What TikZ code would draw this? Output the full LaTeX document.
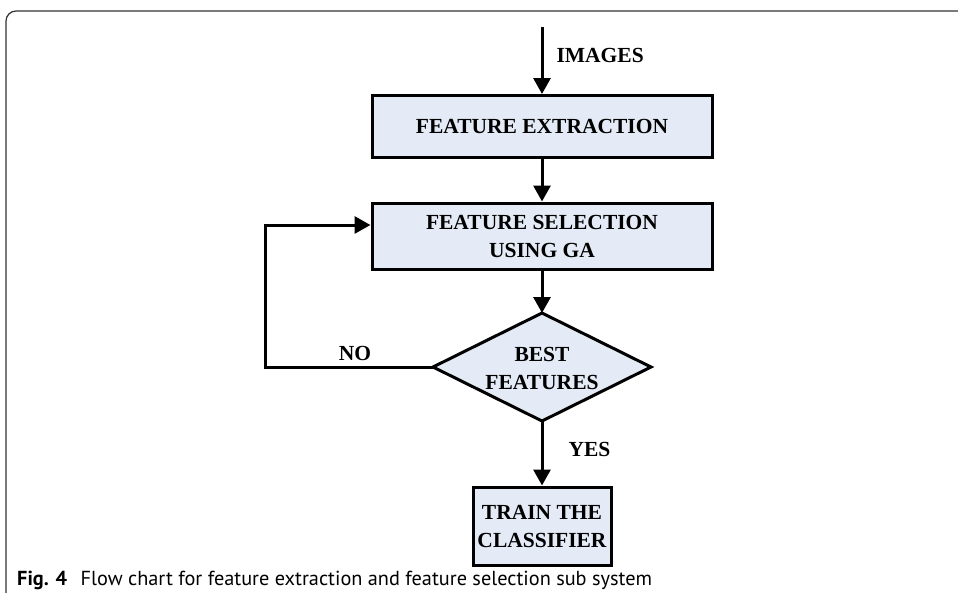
\documentclass[tikz,border=0pt]{standalone}
\usepackage{fontspec}
\setmainfont{Liberation Serif}
\newfontfamily\capfont{PT Sans}
\usetikzlibrary{arrows.meta,shapes.geometric}
\definecolor{boxfill}{HTML}{E4EBF6}
\begin{document}
\begin{tikzpicture}[x=1pt,y=-1pt,
  stepbox/.style={draw=black,line width=3pt,fill=boxfill,align=center,
    font=\fontsize{21.5}{28}\selectfont\bfseries},
  flow/.style={line width=3pt,-{Triangle[length=16pt,width=17pt]}},
  lbl/.style={font=\fontsize{21.5}{28}\selectfont\bfseries}]
\useasboundingbox (0,0) rectangle (958,592);
% outer frame
\draw[line width=1.2pt,draw=black!80,rounded corners=10pt] (6,600) -- (6,11) -- (970,11);
% process boxes
\node[stepbox,minimum width=340pt,minimum height=62pt] (fe) at (542,126.5) {FEATURE EXTRACTION};
\node[stepbox,minimum width=340pt,minimum height=66pt] (fs) at (542,236) {FEATURE SELECTION\\USING GA};
% decision diamond
\path (433,367) coordinate (dl) (651,367) coordinate (dr) (542,313) coordinate (dt) (542,421) coordinate (db);
\draw[line width=3pt,fill=boxfill] (dt) -- (dr) -- (db) -- (dl) -- cycle;
\node[align=center,font=\fontsize{21.5}{28}\selectfont\bfseries] (bf) at (542,368) {BEST\\FEATURES};
\node[stepbox,minimum width=138pt,minimum height=78pt] (tc) at (542,526) {TRAIN THE\\CLASSIFIER};
\coordinate (src) at (542,27);
\coordinate (lp1) at (265,367);
\coordinate (lp2) at (265,225);
% connectors
\draw[flow] (src) -- (fe.north);
\draw[flow] (fe.south) -- (fs.north);
\draw[flow] (fs.south) -- (dt);
\draw[flow] (db) -- (tc.north);
\draw[flow] (dl) -- (lp1) -- (lp2) -- (fs.west |- lp2);
% labels
\node[lbl,anchor=west] (limg) at (553,55) {IMAGES};
\node[lbl] (lno) at (355,353) {NO};
\node[lbl,anchor=west] (lyes) at (565,449) {YES};
% caption
\node[anchor=west,font=\capfont\fontsize{20.3}{22}\selectfont,inner sep=0pt] (cap) at (17,580)
  {\textbf{Fig. 4}\hspace{0.4em} Flow chart for feature extraction and feature selection sub system};
\end{tikzpicture}
\end{document}
